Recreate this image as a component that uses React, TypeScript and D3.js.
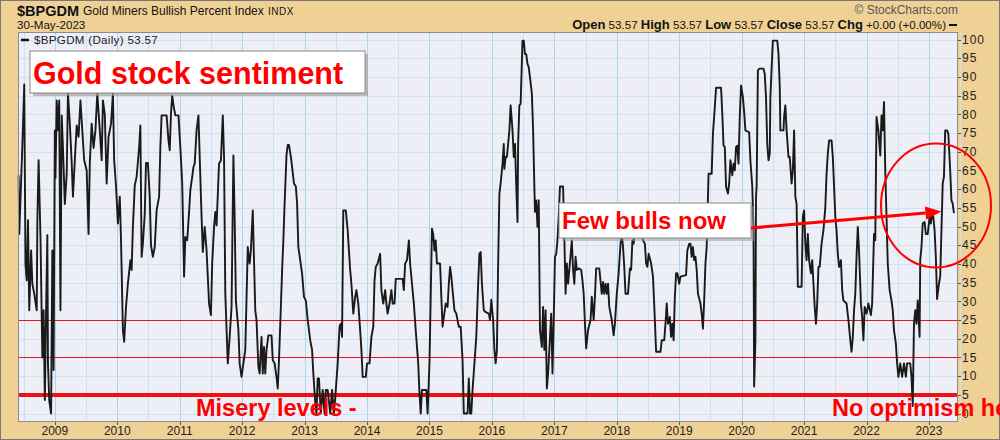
import React from "react";
import * as d3 from "d3";

// Decimal-year dates and index values
const dates: number[] = [
  2008.42, 2008.43, 2008.47, 2008.49, 2008.51, 2008.53, 2008.55, 2008.57, 2008.59, 2008.62,
  2008.64, 2008.67, 2008.71, 2008.72, 2008.74, 2008.77, 2008.80, 2008.82, 2008.84, 2008.86,
  2008.88, 2008.89, 2008.91, 2008.94, 2008.96, 2008.98, 2009.00, 2009.01, 2009.03, 2009.05,
  2009.07, 2009.09, 2009.11, 2009.13, 2009.16, 2009.19, 2009.21, 2009.24, 2009.27, 2009.29,
  2009.32, 2009.35, 2009.38, 2009.41, 2009.44, 2009.47, 2009.51, 2009.54, 2009.56, 2009.59,
  2009.62, 2009.65, 2009.68, 2009.72, 2009.75, 2009.77, 2009.80, 2009.83, 2009.86, 2009.90,
  2009.93, 2009.95, 2009.98, 2010.01, 2010.04, 2010.06, 2010.09, 2010.11, 2010.14, 2010.17,
  2010.21, 2010.23, 2010.25, 2010.28, 2010.31, 2010.35, 2010.37, 2010.39, 2010.41, 2010.44,
  2010.46, 2010.49, 2010.52, 2010.54, 2010.57, 2010.60, 2010.63, 2010.67, 2010.69, 2010.71,
  2010.79, 2010.82, 2010.84, 2010.86, 2010.88, 2010.90, 2010.93, 2010.98, 2011.01, 2011.04,
  2011.07, 2011.09, 2011.12, 2011.15, 2011.17, 2011.20, 2011.22, 2011.24, 2011.27, 2011.30,
  2011.33, 2011.35, 2011.37, 2011.40, 2011.43, 2011.47, 2011.50, 2011.52, 2011.55, 2011.57,
  2011.59, 2011.63, 2011.66, 2011.69, 2011.71, 2011.73, 2011.77, 2011.80, 2011.83, 2011.86,
  2011.88, 2011.90, 2011.94, 2011.96, 2011.99, 2012.02, 2012.05, 2012.09, 2012.12, 2012.14,
  2012.17, 2012.19, 2012.21, 2012.23, 2012.26, 2012.28, 2012.31, 2012.33, 2012.35, 2012.37,
  2012.39, 2012.42, 2012.47, 2012.49, 2012.52, 2012.55, 2012.57, 2012.59, 2012.62, 2012.64,
  2012.66, 2012.68, 2012.71, 2012.73, 2012.75, 2012.78, 2012.80, 2012.83, 2012.86, 2012.88,
  2012.90, 2012.93, 2012.96, 2012.99, 2013.02, 2013.05, 2013.09, 2013.12, 2013.14, 2013.17,
  2013.19, 2013.21, 2013.23, 2013.26, 2013.29, 2013.32, 2013.34, 2013.37, 2013.41, 2013.44,
  2013.47, 2013.50, 2013.53, 2013.56, 2013.58, 2013.60, 2013.62, 2013.66, 2013.69, 2013.73,
  2013.75, 2013.78, 2013.81, 2013.83, 2013.86, 2013.89, 2013.91, 2013.93, 2013.98, 2014.00,
  2014.04, 2014.07, 2014.10, 2014.12, 2014.14, 2014.17, 2014.21, 2014.23, 2014.26, 2014.29,
  2014.31, 2014.33, 2014.36, 2014.39, 2014.41, 2014.44, 2014.46, 2014.57, 2014.59, 2014.61,
  2014.64, 2014.67, 2014.69, 2014.72, 2014.75, 2014.78, 2014.82, 2014.84, 2014.86, 2014.88,
  2014.95, 2014.97, 2015.00, 2015.02, 2015.04, 2015.06, 2015.08, 2015.10, 2015.12, 2015.17,
  2015.19, 2015.21, 2015.23, 2015.26, 2015.29, 2015.31, 2015.33, 2015.35, 2015.37, 2015.40,
  2015.43, 2015.47, 2015.50, 2015.53, 2015.55, 2015.61, 2015.63, 2015.65, 2015.67, 2015.69,
  2015.72, 2015.75, 2015.78, 2015.80, 2015.82, 2015.84, 2015.87, 2015.90, 2015.95, 2015.97,
  2015.99, 2016.02, 2016.04, 2016.06, 2016.08, 2016.10, 2016.12, 2016.14, 2016.17, 2016.19,
  2016.20, 2016.22, 2016.24, 2016.26, 2016.28, 2016.30, 2016.33, 2016.35, 2016.37, 2016.39,
  2016.41, 2016.42, 2016.44, 2016.46, 2016.49, 2016.51, 2016.53, 2016.55, 2016.57, 2016.59,
  2016.61, 2016.64, 2016.66, 2016.68, 2016.69, 2016.71, 2016.73, 2016.75, 2016.77, 2016.80,
  2016.82, 2016.84, 2016.86, 2016.88, 2016.90, 2016.92, 2016.95, 2016.97, 2016.99, 2017.01,
  2017.03, 2017.05, 2017.07, 2017.09, 2017.14, 2017.16, 2017.18, 2017.20, 2017.22, 2017.24,
  2017.28, 2017.30, 2017.32, 2017.34, 2017.36, 2017.39, 2017.43, 2017.45, 2017.47, 2017.49,
  2017.51, 2017.54, 2017.58, 2017.60, 2017.63, 2017.65, 2017.67, 2017.72, 2017.76, 2017.78,
  2017.80, 2017.82, 2017.84, 2017.86, 2017.88, 2017.92, 2017.95, 2017.97, 2018.00, 2018.03,
  2018.06, 2018.08, 2018.10, 2018.12, 2018.14, 2018.18, 2018.21, 2018.23, 2018.25, 2018.27,
  2018.29, 2018.34, 2018.42, 2018.45, 2018.47, 2018.49, 2018.51, 2018.55, 2018.58, 2018.61,
  2018.63, 2018.70, 2018.72, 2018.76, 2018.78, 2018.80, 2018.82, 2018.85, 2018.87, 2018.89,
  2018.91, 2018.93, 2018.95, 2018.97, 2019.00, 2019.02, 2019.11, 2019.13, 2019.16, 2019.18,
  2019.20, 2019.22, 2019.24, 2019.26, 2019.28, 2019.30, 2019.34, 2019.36, 2019.38, 2019.40,
  2019.42, 2019.44, 2019.47, 2019.52, 2019.54, 2019.57, 2019.59, 2019.67, 2019.69, 2019.71,
  2019.73, 2019.75, 2019.78, 2019.80, 2019.82, 2019.85, 2019.87, 2019.89, 2019.91, 2019.93,
  2019.95, 2019.97, 2019.99, 2020.02, 2020.04, 2020.06, 2020.12, 2020.14, 2020.17, 2020.19,
  2020.20, 2020.22, 2020.23, 2020.24, 2020.26, 2020.28, 2020.35, 2020.37, 2020.39, 2020.41,
  2020.43, 2020.45, 2020.46, 2020.49, 2020.50, 2020.57, 2020.59, 2020.61, 2020.62, 2020.67,
  2020.68, 2020.70, 2020.72, 2020.75, 2020.77, 2020.80, 2020.82, 2020.84, 2020.86, 2020.88,
  2020.90, 2020.96, 2020.98, 2021.00, 2021.02, 2021.04, 2021.06, 2021.08, 2021.11, 2021.13,
  2021.15, 2021.17, 2021.19, 2021.21, 2021.23, 2021.25, 2021.28, 2021.31, 2021.34, 2021.36,
  2021.38, 2021.40, 2021.44, 2021.46, 2021.48, 2021.50, 2021.52, 2021.54, 2021.56, 2021.59,
  2021.61, 2021.63, 2021.68, 2021.71, 2021.74, 2021.76, 2021.78, 2021.80, 2021.82, 2021.84,
  2021.86, 2021.88, 2021.91, 2021.93, 2021.95, 2021.97, 2022.00, 2022.03, 2022.07, 2022.09,
  2022.12, 2022.14, 2022.16, 2022.19, 2022.22, 2022.24, 2022.26, 2022.28, 2022.30, 2022.32,
  2022.34, 2022.37, 2022.40, 2022.42, 2022.44, 2022.47, 2022.49, 2022.51, 2022.54, 2022.57,
  2022.60, 2022.63, 2022.65, 2022.70, 2022.72, 2022.74, 2022.76, 2022.78, 2022.80, 2022.82,
  2022.85, 2022.86, 2022.88, 2022.90, 2022.93, 2022.95, 2022.98, 2023.01, 2023.03, 2023.05,
  2023.07, 2023.09, 2023.11, 2023.13, 2023.16, 2023.18, 2023.20, 2023.22, 2023.24, 2023.26,
  2023.29, 2023.31, 2023.34, 2023.36, 2023.38, 2023.40,
];

const values: number[] = [
  63.7, 48, 67, 77, 88, 40, 35.6, 51.7, 27.6, 43.6,
  34.7, 32, 27.6, 51.7, 67.7, 47, 15, 27.6, 3.6, 27.6,
  47.7, 13.4, 3.6, 0, 43.6, 11.6, 75.7, 63, 83.7, 75.7,
  83.7, 27.6, 79.7, 71, 56, 64, 85.5, 77.5, 67, 58,
  67.7, 77, 74, 83.7, 75.7, 67.7, 65, 48, 67, 77.5,
  71, 75.7, 85.5, 75.7, 67.7, 83.7, 80, 61.5, 74, 77.5,
  85.5, 67.7, 60.7, 50.8, 58, 46.3, 22.3, 19.2, 28.5, 34.7,
  41, 38.4, 49.9, 61, 63.3, 71.2, 77, 41.9, 45.4, 53.4,
  67, 67, 58, 45, 41.9, 44.5, 54.3, 58, 71.2, 79.7,
  79.7, 73, 70.4, 80.2, 85, 82.4, 79.7, 79.7, 71.2, 61.5,
  36.6, 47.2, 46.3, 53.9, 59.7, 63.3, 65.9, 66.8, 75.7, 79.7,
  63.3, 52.6, 43.2, 49.9, 43.6, 29.4, 26.3, 40.1, 49.9, 53.9,
  50.3, 66.8, 67.7, 79.7, 68.6, 32, 13.4, 20.5, 28.5, 69,
  52.6, 30.2, 22.3, 13.4, 9.8, 13.4, 17, 44.5, 40.1, 43.6,
  54.3, 41, 27.6, 25, 12.5, 10.7, 20.5, 10.7, 17.8, 10.7,
  17, 20.9, 20.9, 14.3, 13.4, 9.8, 6.7, 14.3, 28.5, 38.4,
  46.3, 56.1, 69, 71.8, 71.8, 68.6, 65.9, 61.5, 60.7, 56.1,
  44.5, 41, 37.4, 31.2, 30.2, 25, 19.6, 17, 10.7, 3.1,
  0, 9.4, 9.4, 0, 6.3, 0, 6.3, 6.3, 0, 6.3,
  0, 6.3, 13.4, 23.2, 24, 20.5, 54.3, 54.3, 49, 38.4,
  34.7, 26.7, 31.2, 33, 29.4, 22.3, 17, 9.8, 9.8, 13.4,
  13.4, 20.5, 23.2, 35.6, 39.2, 40.1, 42.7, 33, 29.4, 33,
  29.4, 26.7, 29.4, 33, 29.4, 29.4, 36, 36, 33, 40.1,
  41, 46.3, 40.1, 34.7, 29.4, 22.3, 13.4, 5.4, 0, 6.3,
  6.3, 0, 13.4, 31.2, 49.4, 48, 43.6, 46.3, 40.1, 40.1,
  31.2, 23.2, 25.8, 29.4, 28.5, 34.7, 39.2, 36.6, 33, 27.6,
  26.7, 23.2, 23.2, 14.3, 0, 0, 9.4, 0, 0, 6.3,
  13.4, 20.5, 34.7, 42.7, 43.2, 34.7, 27.6, 27.1, 26.7, 25,
  30.4, 25, 17, 13.4, 17, 40.1, 58.8, 61.5, 66.8, 72.1,
  65.4, 68.6, 68.6, 72.1, 75.7, 82.4, 75.7, 68.6, 72.1, 60.7,
  51.2, 72.1, 82.4, 82.8, 99.7, 99.7, 96.1, 96.1, 93.5, 92.6,
  89.9, 85.5, 75.7, 60.7, 53.9, 57, 49.9, 57, 22.3, 17.8,
  28.5, 17, 27.6, 6.7, 10.7, 17, 26.7, 10.7, 25, 41.9,
  42.7, 46.3, 52.6, 60.7, 60.7, 47.2, 32, 40.1, 34.7, 38.4,
  46.3, 38.4, 34.7, 41.9, 38.4, 38.8, 38.4, 35.6, 32, 24,
  17.4, 22.3, 25, 31.2, 25, 31.2, 38.8, 38.8, 32, 35.2,
  32, 34.7, 32, 34.7, 28.5, 25, 20.9, 24, 32, 37.5,
  45.4, 48, 44.5, 39.2, 32, 32, 38.8, 38.4, 46.3, 45.4,
  50.8, 52.6, 46.3, 45.4, 40.1, 39.2, 42.7, 40.1, 36.6, 25,
  16.5, 16.5, 19.6, 19.6, 24, 29.4, 24, 25.8, 20.5, 24,
  19.6, 31.2, 37.5, 37.5, 34.7, 36.6, 37, 43.6, 45.4, 45.4,
  41.9, 44.5, 41, 41.9, 38.4, 32, 29.4, 26.7, 22.7, 30.2,
  40.1, 44.5, 64.1, 64.1, 74.8, 81.9, 87.1, 87.1, 80.1, 71.6,
  71.2, 60.7, 58.8, 61.5, 67.7, 63.7, 66.8, 65, 71.2, 71.6,
  66.8, 79.3, 87.7, 84.6, 80.6, 75.7, 75.2, 67.7, 60.7, 49,
  7.2, 19.2, 58, 60.7, 91.7, 92.2, 92.2, 90.8, 84.6, 72.1,
  67.7, 69.5, 84.6, 96.2, 99.7, 99.7, 96.2, 87.3, 75.7, 75.7,
  79.3, 82.4, 75.7, 68.6, 68.6, 61.5, 65, 75.7, 58, 56.1,
  33.9, 33.9, 52.6, 54.3, 45.4, 41, 48, 41, 37.5, 41,
  34.7, 28.5, 24, 29.4, 39.2, 39.2, 45.4, 49, 55.2, 64.1,
  69.5, 73, 73, 68.6, 60.7, 52.6, 49, 42.7, 39.2, 41,
  33, 30.2, 29.4, 25, 19.6, 16.5, 20.5, 27.6, 32, 41.9,
  49.9, 43.6, 29.4, 25.8, 19.6, 28.5, 26.7, 29.4, 26.3, 29.4,
  48, 46.3, 79.3, 75.7, 69, 79.7, 75.7, 83.3, 65, 52.6,
  40.1, 33, 30.2, 27.6, 22.3, 18.7, 13.4, 9.8, 13.4, 9.8,
  13.4, 9.8, 13.4, 13.4, 9.8, 2, 24, 27.6, 24, 30.2,
  20.5, 41, 44.5, 50.8, 51.2, 48, 48, 52.6, 50.8, 53.4,
  52.6, 49, 41.9, 30.6, 34.7, 36.6, 49, 61.5, 63.3, 75.7,
  75.7, 74.8, 65, 57, 56.1, 53.57,
];

const yTicks: number[] = d3.range(0, 101, 5);
const yearTicks: number[] = d3.range(2009, 2024);
const halfYearLines: number[] = d3.range(2008.5, 2023.6, 0.5);
const thinLevels: number[] = [25, 15];
const thickLevel = 5;
const arrowFrom: [number, number] = [2020.15, 49.6];
const arrowTo: [number, number] = [2023.2, 54];

const W = 1000;
const H = 440;
const L = 18, R = 958, T = 32, B = 422;
const FONT = "'Liberation Sans', Arial, sans-serif";
const crisp = (v: number) => Math.round(v) + 0.5;

export default function App() {
  const x = d3.scaleLinear().domain([2008.41, 2023.465]).range([L, R]);
  const y = d3.scaleLinear().domain([0, 100]).range([413.5, 39.5]);
  const pts = dates.map((d, i) => [d, values[i]] as [number, number]);
  const line = d3
    .line<[number, number]>()
    .x((d) => x(d[0]))
    .y((d) => y(d[1]));

  const ax1 = x(arrowFrom[0]), ay1 = y(arrowFrom[1]);
  const ax2 = x(arrowTo[0]), ay2 = y(arrowTo[1]);
  const ang = Math.atan2(ay2 - ay1, ax2 - ax1);
  const headLen = 16, headW = 6.5;
  const bx = ax2 - headLen * Math.cos(ang), by = ay2 - headLen * Math.sin(ang);
  const head = [
    [ax2, ay2],
    [bx + headW * Math.sin(ang), by - headW * Math.cos(ang)],
    [bx - headW * Math.sin(ang), by + headW * Math.cos(ang)],
  ]
    .map((p) => p.join(","))
    .join(" ");

  return (
    <svg
      width={W}
      height={H}
      style={{ position: "absolute", left: 0, top: 0, fontFamily: FONT }}
    >
      <rect x={0} y={0} width={W} height={H} fill="#F0D195" />
      <rect x={0.5} y={0.5} width={W - 1} height={H - 1} fill="none" stroke="#777" />

      {/* header */}
      <text x={17} y={16} fontSize={14.5} fontWeight="bold" fill="#111">$BPGDM</text>
      <text x={83} y={15} fontSize={12} fill="#111">Gold Miners Bullish Percent Index</text>
      <text x={268} y={15} fontSize={10} fill="#111" letterSpacing={0.5}>INDX</text>
      <text x={17} y={28.5} fontSize={11.6} fill="#111">30-May-2023</text>
      <text x={958} y={14} fontSize={12} fill="#555" textAnchor="end">© StockCharts.com</text>
      <text x={946} y={29} fontSize={11.6} fill="#111" textAnchor="end">
        <tspan fontWeight="bold" fontSize={13}>Open</tspan>
        <tspan> 53.57   </tspan>
        <tspan fontWeight="bold" fontSize={13}>High</tspan>
        <tspan> 53.57   </tspan>
        <tspan fontWeight="bold" fontSize={13}>Low</tspan>
        <tspan> 53.57   </tspan>
        <tspan fontWeight="bold" fontSize={13}>Close</tspan>
        <tspan> 53.57   </tspan>
        <tspan fontWeight="bold" fontSize={13}>Chg</tspan>
        <tspan> +0.00 (+0.00%)</tspan>
      </text>
      <line x1={949} x2={957} y1={25} y2={25} stroke="#111" strokeWidth={2} />

      {/* plot area */}
      <rect x={L} y={T} width={R - L} height={B - T} fill="#EEEEF6" />
      {yTicks.map((v) => (
        <line key={"h" + v} x1={L} x2={R} y1={crisp(y(v))} y2={crisp(y(v))} stroke="#C6E4F3" strokeWidth={1} />
      ))}
      {halfYearLines.map((d) => (
        <line
          key={"v" + d}
          x1={crisp(x(d))}
          x2={crisp(x(d))}
          y1={T}
          y2={B}
          stroke={Number.isInteger(d) ? "#A9D5EE" : "#C6E4F3"}
          strokeWidth={1}
        />
      ))}
      {thinLevels.map((v) => (
        <line key={"r" + v} x1={L} x2={R} y1={crisp(y(v))} y2={crisp(y(v))} stroke="#E8141B" strokeWidth={1} />
      ))}
      <line x1={L} x2={R} y1={Math.round(y(thickLevel))} y2={Math.round(y(thickLevel))} stroke="#F01010" strokeWidth={4} />

      <path d={line(pts) || ""} fill="none" stroke="#1a1a1a" strokeWidth={1.9} strokeLinejoin="round" />

      <rect x={L + 0.5} y={T + 0.5} width={R - L - 1} height={B - T - 1} fill="none" stroke="#8A8A9A" strokeWidth={1} />

      {/* legend */}
      <line x1={21} x2={29} y1={40} y2={40} stroke="#111" strokeWidth={2.5} />
      <text x={34} y={44} fontSize={11.6} fill="#222" letterSpacing={0.3}>$BPGDM (Daily) 53.57</text>

      {/* right axis */}
      {yTicks.map((v) => (
        <g key={"yt" + v}>
          <line x1={R} x2={R + 3} y1={crisp(y(v))} y2={crisp(y(v))} stroke="#555" />
          <text x={962} y={y(v)} dy="0.35em" fontSize={12} letterSpacing={1} fill="#222">{v}</text>
        </g>
      ))}
      {/* bottom axis */}
      {yearTicks.map((yr) => (
        <g key={"xt" + yr}>
          <line x1={crisp(x(yr))} x2={crisp(x(yr))} y1={B} y2={B + 3} stroke="#555" />
          <text x={x(yr)} y={435} fontSize={12} fill="#222" textAnchor="middle">{yr}</text>
        </g>
      ))}

      {/* annotations */}
      <rect x={33} y={54} width={335} height={42} fill="#999" opacity={0.6} />
      <rect x={30} y={51} width={335} height={42} fill="#fff" stroke="#888" />
      <text x={33} y={84} fontSize={30.5} fontWeight="bold" fill="#F00">Gold stock sentiment</text>

      <rect x={562} y={206} width={192} height={35} fill="#999" opacity={0.5} />
      <rect x={559} y={203} width={192} height={35} fill="#fff" stroke="#888" />
      <text x={562} y={228.5} fontSize={24} fontWeight="bold" fill="#F00">Few bulls now</text>

      <line x1={ax1} y1={ay1} x2={bx} y2={by} stroke="#F00" strokeWidth={3} />
      <polygon points={head} fill="#F00" />

      <ellipse cx={936} cy={205.5} rx={55} ry={62} fill="none" stroke="#F00" strokeWidth={2} />

      <text x={196} y={416} fontSize={23.5} fontWeight="bold" fill="#F00">Misery levels -</text>
      <text x={832} y={416} fontSize={23.5} fontWeight="bold" fill="#F00">No optimism here</text>
    </svg>
  );
}
